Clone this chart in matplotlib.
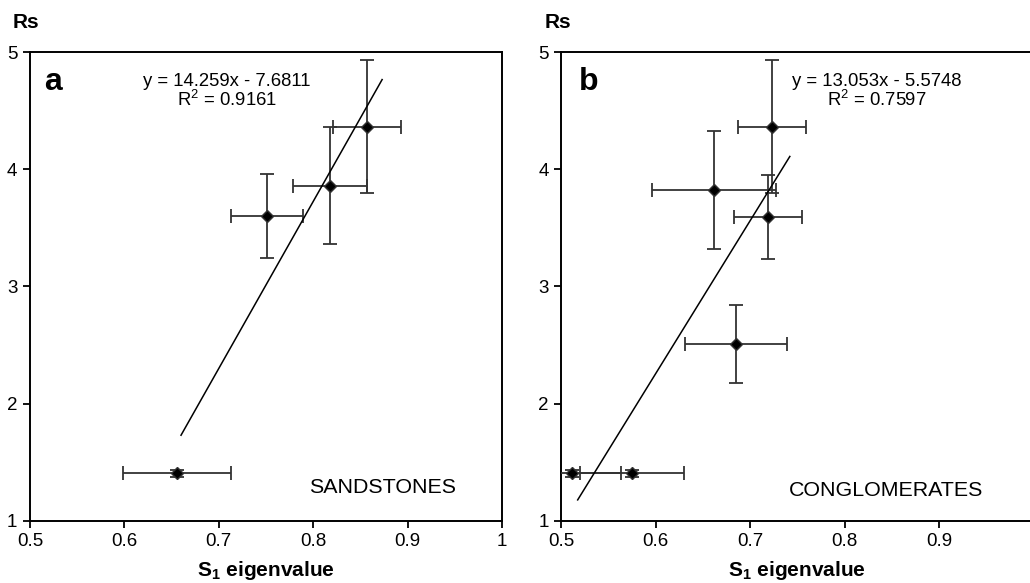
import matplotlib
matplotlib.use("Agg")
import matplotlib.pyplot as plt
import numpy as np

plt.rcParams['font.family'] = ['Liberation Sans', 'DejaVu Sans']
plt.rcParams['mathtext.fontset'] = 'custom'
plt.rcParams['mathtext.rm'] = 'Liberation Sans'
plt.rcParams['mathtext.bf'] = 'Liberation Sans:bold'
plt.rcParams['mathtext.default'] = 'regular'

# panel a - sandstones
sand_x = [0.6555, 0.751, 0.818, 0.857]
sand_y = [1.405, 3.60, 3.86, 4.365]
sand_xerr = [0.057, 0.038, 0.039, 0.036]
sand_yerr = [0.03, 0.36, 0.50, 0.57]
sand_fit = (14.259, -7.6811)
sand_fit_range = [0.66, 0.873]

# panel b - conglomerates
cong_x = [0.5117, 0.5745, 0.6846, 0.6617, 0.7185, 0.7234]
cong_y = [1.405, 1.405, 2.506, 3.824, 3.596, 4.365]
cong_xerr = [0.0513, 0.055, 0.054, 0.0656, 0.036, 0.036]
cong_yerr = [0.03, 0.03, 0.333, 0.50, 0.36, 0.57]
cong_fit = (13.053, -5.5748)
cong_fit_range = [0.5173, 0.742]

x_ticks = [0.5, 0.6, 0.7, 0.8, 0.9, 1.0]
x_labels = ['0.5', '0.6', '0.7', '0.8', '0.9', '1']

fig = plt.figure(figsize=(10.3, 5.83), dpi=100)
ax_a = fig.add_axes([0.0291, 0.1069, 0.4583, 0.8034])
ax_b = fig.add_axes([0.545, 0.1069, 0.4583, 0.8034])


def panel(ax, x, y, xerr, yerr, fit, fit_range, letter, letter_x, eq, eq_x, name, name_x, name_y, labels):
    ax.errorbar(x, y, xerr=xerr, yerr=yerr, fmt='D', color='black', ms=6,
                mfc='black', mec='#333333', ecolor='#333333', elinewidth=1.3,
                capsize=5, capthick=1.3, zorder=3)
    fx = np.array(fit_range)
    ax.plot(fx, fit[0] * fx + fit[1], color='black', lw=1.1, zorder=4)
    ax.set_xlim(0.5, 1.0)
    ax.set_ylim(1, 5)
    ax.set_xticks(x_ticks)
    ax.set_xticklabels(labels)
    ax.set_yticks([1, 2, 3, 4, 5])
    ax.tick_params(direction='out', length=5, width=1.3, labelsize=13.5, pad=4)
    for s in ax.spines.values():
        s.set_linewidth(1.4)
    ax.set_xlabel('S$_1$ eigenvalue', fontsize=15, fontweight='bold', labelpad=6)
    ax.text(letter_x, 4.745, letter, fontsize=23, fontweight='bold', ha='left', va='center')
    ax.text(eq_x, 4.665, eq, fontsize=13.3, ha='center', va='center', linespacing=1.0)
    ax.text(name_x, name_y, name, fontsize=15.4, ha='left', va='center')


panel(ax_a, sand_x, sand_y, sand_xerr, sand_yerr, sand_fit, sand_fit_range, 'a', 0.5148,
      'y = 14.259x - 7.6811\nR$^2$ = 0.9161', 0.7087, 'SANDSTONES', 0.7955, 1.28, x_labels)
panel(ax_b, cong_x, cong_y, cong_xerr, cong_yerr, cong_fit, cong_fit_range, 'b', 0.5187,
      'y = 13.053x - 5.5748\nR$^2$ = 0.7597', 0.834, 'CONGLOMERATES', 0.741, 1.256,
      x_labels[:-1] + [''])

fig.text(26 / 1030, 1 - 23 / 583, 'Rs', fontsize=15, fontweight='bold', ha='center', va='center')
fig.text(558 / 1030, 1 - 23 / 583, 'Rs', fontsize=15, fontweight='bold', ha='center', va='center')

fig.savefig('out.png', dpi=100)
